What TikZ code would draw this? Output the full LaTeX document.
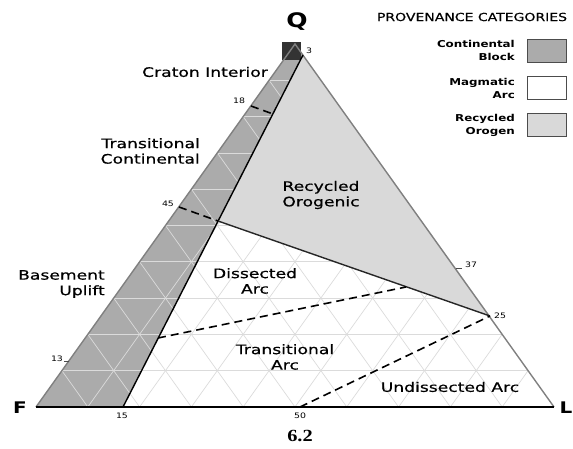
\documentclass[tikz,border=0pt]{standalone}
\usepackage{fontspec}
\setmainfont{DejaVu Sans}[FakeStretch=1.25]
\newfontfamily\fieldfont{DejaVu Sans}[FakeStretch=1.32, FakeBold=0.6]
\newfontfamily\titlefont{DejaVu Sans}[FakeStretch=1.25, FakeBold=0.5]
\newfontfamily\captionfont{Liberation Serif}[FakeStretch=1.2]

\begin{document}
\begin{tikzpicture}[x=1pt,y=-1pt]
        % Define styles
        \tikzset{
            field/.style={font=\fieldfont\fontsize{13}{15.5}\selectfont, align=center, inner sep=0pt},
            numlabel/.style={font=\fontsize{7.5}{9}\selectfont, inner sep=0pt},
            corner/.style={font=\bfseries\fontsize{20}{24}\selectfont, inner sep=0pt, anchor=base},
            legendtext/.style={font=\bfseries\fontsize{9.5}{13}\selectfont, align=right, inner sep=0pt, anchor=east},
            legendbox/.style={draw=black!70, line width=0.8pt, minimum width=39pt, minimum height=23pt, inner sep=0pt},
            gridline/.style={draw=black!14, line width=0.7pt},
            boundary/.style={line width=1.4pt},
            dashline/.style={line width=1.6pt, dash pattern=on 8pt off 5pt}
        }
        \useasboundingbox (0,0) rectangle (573,449);

        % Corners and field points
        \coordinate (Q) at (295,44);
        \coordinate (F) at (36,407);
        \coordinate (L) at (554,407);
        \coordinate (cb_top) at (303,55);
        \coordinate (cb_bottom) at (123,407);
        \coordinate (ro_left) at (218,221);
        \coordinate (ro_right) at (490,316);
        \coordinate (ci_left) at (251,106);
        \coordinate (ci_right) at (273,114);
        \coordinate (tc_left) at (179,207);
        \coordinate (da_left) at (158,338);
        \coordinate (da_right) at (406,287);
        \coordinate (ua_bottom) at (300,407);

        % Fields
        \fill[black!33] (F) -- (Q) -- (cb_top) -- (cb_bottom) -- cycle;
        \fill[black!80] (282,42) rectangle (301,60);
        \foreach \k [evaluate=\k as \m using int(10-\k)] in {1,...,9} {
            \draw[gridline] (barycentric cs:Q=\k,F=\m,L=0) -- (barycentric cs:Q=\k,F=0,L=\m);
            \draw[gridline] (barycentric cs:L=\k,F=\m,Q=0) -- (barycentric cs:L=\k,Q=\m,F=0);
            \draw[gridline] (barycentric cs:F=\k,Q=\m,L=0) -- (barycentric cs:F=\k,L=\m,Q=0);
        }
        \fill[black!15] (cb_top) -- (ro_left) -- (ro_right) -- cycle;

        % Triangle
        \draw[boundary, black!50] (F) -- (Q) -- (L);
        \draw[boundary, line width=1.8pt] (F) -- (L);

        % Boundaries
        \draw[boundary] (cb_top) -- (cb_bottom);
        \draw[boundary, black!85] (ro_left) -- (ro_right);
        \draw[dashline] (ci_left) -- (ci_right);
        \draw[dashline] (tc_left) -- (ro_left);
        \draw[dashline] (da_left) -- (da_right);
        \draw[dashline] (ua_bottom) -- (ro_right);
        \draw[line width=0.9pt, black!70] (64,361) -- (69,361);
        \draw[line width=0.9pt, black!70] (456,268) -- (462,268);

        % Corner labels
        \node[corner] (q_label) at (297,28) {Q};
        \node[corner, font=\bfseries\fontsize{16}{19}\selectfont] (f_label) at (20,413) {F};
        \node[corner, font=\bfseries\fontsize{16}{19}\selectfont] (l_label) at (566,413) {L};

        % Values
        \node[numlabel] (v3) at (309,51) {3};
        \node[numlabel] (v18) at (239,101) {18};
        \node[numlabel] (v45) at (168,204) {45};
        \node[numlabel] (v13) at (57,359) {13};
        \node[numlabel] (v15) at (122,416) {15};
        \node[numlabel] (v50) at (300,416) {50};
        \node[numlabel] (v37) at (471,265) {37};
        \node[numlabel] (v25) at (500,316) {25};

        % Field names
        \node[field] (craton) at (205,72) {Craton Interior};
        \node[field, align=right, anchor=east] (trans_cont) at (200,151) {Transitional\\Continental};
        \node[field, align=right, anchor=east] (basement) at (105,284) {Basement\\Uplift};
        \node[field] (recycled) at (321,195) {Recycled\\Orogenic};
        \node[field] (dissected) at (255,281) {Dissected\\Arc};
        \node[field] (trans_arc) at (285,357) {Transitional\\Arc};
        \node[field] (undissected) at (450,387) {Undissected Arc};

        % Legend
        \node[font=\titlefont\fontsize{11.2}{13}\selectfont, inner sep=0pt] (legend_title) at (472,17) {PROVENANCE CATEGORIES};
        \node[legendbox, fill=black!33] (cb_box) at (546.5,50.5) {};
        \node[legendbox, fill=white] (ma_box) at (546.5,87.5) {};
        \node[legendbox, fill=black!15] (ro_box) at (546.5,124.5) {};
        \node[legendtext] (cb_text) at (515,50.5) {Continental\\Block};
        \node[legendtext] (ma_text) at (515,88) {Magmatic\\Arc};
        \node[legendtext] (ro_text) at (515,125) {Recycled\\Orogen};

        % Footnote
        \node[font=\captionfont\bfseries\fontsize{17}{20}\selectfont, inner sep=0pt] (caption) at (300,436) {6.2};
\end{tikzpicture}
\end{document}
